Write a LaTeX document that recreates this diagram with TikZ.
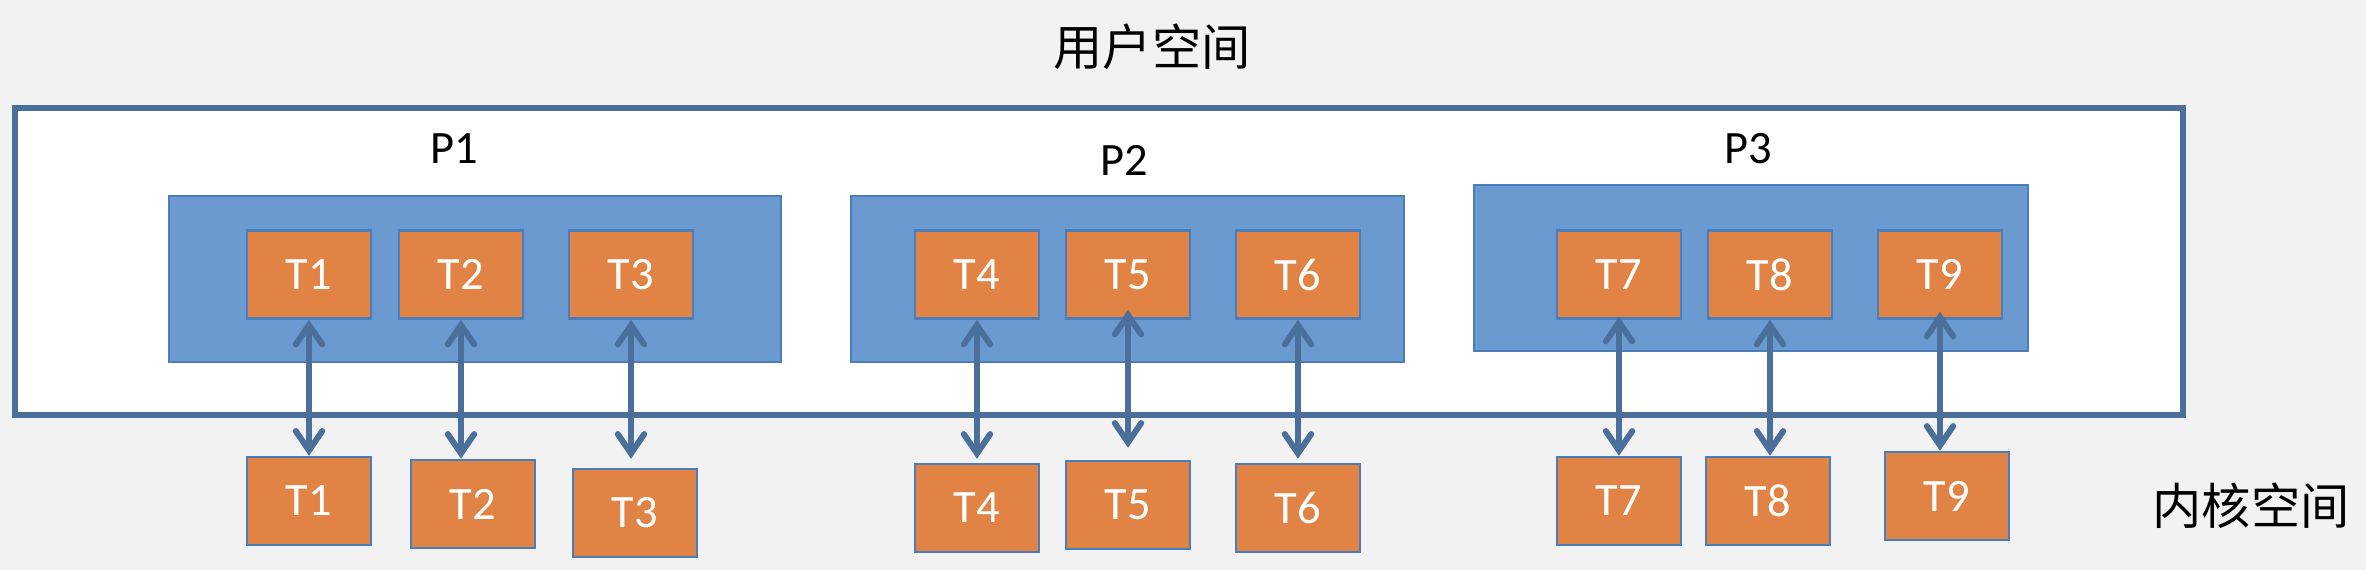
\documentclass[tikz,border=0pt]{standalone}
\usepackage{fontspec}
\setmainfont{Carlito}
\newfontfamily\cjk{Noto Sans CJK SC}
\usetikzlibrary{arrows.meta}

\definecolor{bgGray}{HTML}{F2F2F2}
\definecolor{frameBlue}{HTML}{4B6F9B}
\definecolor{procBlue}{HTML}{6A9ACF}
\definecolor{procEdge}{HTML}{4A7EBB}
\definecolor{threadOrange}{HTML}{E08344}

\tikzset{
  proc/.style={draw=procEdge, line width=0.7pt, fill=procBlue},
  thread/.style={draw=procEdge, line width=0.7pt, fill=threadOrange, text=white,
    minimum width=1.24cm, minimum height=0.88cm, inner sep=0pt,
    font=\fontsize{13.2}{15}\selectfont},
  label/.style={font=\fontsize{13.2}{15}\selectfont},
  link/.style={draw=frameBlue, line width=1.7pt,
    {Straight Barb[length=5.5pt,width=7.5pt,line cap=round]}-{Straight Barb[length=5.5pt,width=7.5pt,line cap=round]}}
}

\begin{document}
\begin{tikzpicture}[x=0.01cm, y=-0.01cm]
        \fill[bgGray] (0,0) rectangle (2366,570);
        \node[font=\cjk\fontsize{14}{16}\selectfont] (user) at (1152, 47) {用户空间};
        \node[font=\cjk\fontsize{14}{16}\selectfont] (kernel) at (2251, 506) {内核空间};

        % user space frame
        \draw[draw=frameBlue, fill=white, line width=1.7pt] (15,108) rectangle (2183,415);

        % processes
        \draw[proc] (169,196) rectangle (781,362);
        \node[label] (p1) at (454, 149) {P1};
        \draw[proc] (851,196) rectangle (1404,362);
        \node[label] (p2) at (1124, 160) {P2};
        \draw[proc] (1474,185) rectangle (2028,351);
        \node[label] (p3) at (1748, 149) {P3};

        % user threads
        \node[thread] (t1) at (309, 274.5) {T1};
        \node[thread] (t2) at (461, 274.5) {T2};
        \node[thread] (t3) at (631, 274.5) {T3};
        \node[thread] (t4) at (977, 274.5) {T4};
        \node[thread] (t5) at (1128, 274.5) {T5};
        \node[thread] (t6) at (1298, 274.5) {T6};
        \node[thread] (t7) at (1619, 274.5) {T7};
        \node[thread] (t8) at (1770, 274.5) {T8};
        \node[thread] (t9) at (1940, 274.5) {T9};

        % kernel threads
        \node[thread] (k1) at (309, 501) {T1};
        \node[thread] (k2) at (473, 504) {T2};
        \node[thread] (k3) at (635, 513) {T3};
        \node[thread] (k4) at (977, 508) {T4};
        \node[thread] (k5) at (1128, 505) {T5};
        \node[thread] (k6) at (1298, 508) {T6};
        \node[thread] (k7) at (1619, 501) {T7};
        \node[thread] (k8) at (1768, 501) {T8};
        \node[thread] (k9) at (1947, 496) {T9};

        % one-to-one mapping
        \draw[link] (t1.south) -- (t1.south |- k1.north);
        \draw[link] (t2.south) -- (t2.south |- k2.north);
        \draw[link, shorten >=0.09cm] (t3.south) -- (t3.south |- k3.north);
        \draw[link, shorten >=0.04cm] (t4.south) -- (t4.south |- k4.north);
        \draw[link, shorten <=-0.1cm, shorten >=0.12cm] (t5.south) -- (t5.south |- k5.north);
        \draw[link, shorten >=0.04cm] (t6.south) -- (t6.south |- k6.north);
        \draw[link, shorten <=-0.03cm] (t7.south) -- (t7.south |- k7.north);
        \draw[link] (t8.south) -- (t8.south |- k8.north);
        \draw[link, shorten <=-0.08cm] (t9.south) -- (t9.south |- k9.north);
\end{tikzpicture}
\end{document}
